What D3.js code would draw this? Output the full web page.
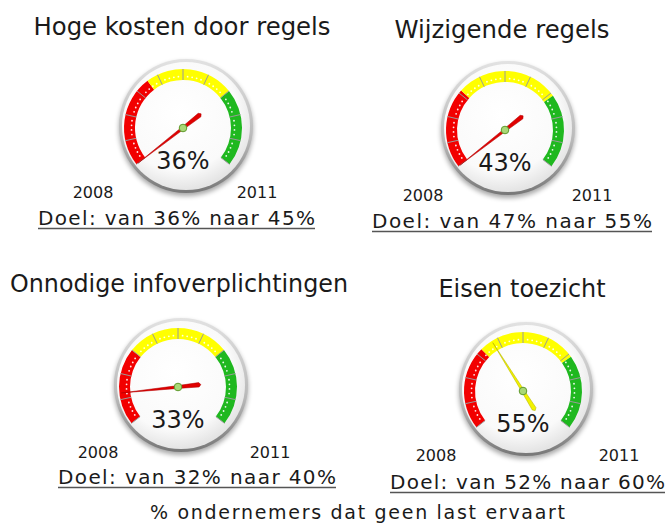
<!DOCTYPE html>
<html>
<head>
<meta charset="utf-8">
<script src="https://cdn.jsdelivr.net/npm/d3@7"></script>
<style>
  html, body { margin: 0; padding: 0; background: #fff; }
  svg { display: block; }
  text { font-family: 'DejaVu Sans', Verdana, sans-serif; fill: #1a1a1a; }
</style>
</head>
<body>
<div id="chart"></div>
<script>
// gauge data
const titles = ['Hoge kosten door regels', 'Wijzigende regels', 'Onnodige infoverplichtingen', 'Eisen toezicht'];
const values = [36, 43, 33, 55];
const startValues = [36, 47, 32, 52];
const targetValues = [45, 55, 40, 60];
const redEnds = [39.2, 49.5, 34.4, 54.6];
const yellowEnds = [42.3, 52.7, 37.6, 57.7];
const yearLabels = ['2008', '2011'];
const footer = '% ondernemers dat geen last ervaart';

const width = 668;
const height = 523;

// panel layout (pixel placement of each gauge block)
const layout = [
  { cx: 183, cy: 128, title: [182, 35, 297], y08: [93, 198], y11: [257, 198], doel: [38, 225, 277] },
  { cx: 505, cy: 130, title: [502, 38, 215], y08: [423, 201], y11: [592, 201], doel: [372, 228, 280] },
  { cx: 178, cy: 387, title: [179, 292, 338], y08: [98, 458], y11: [270, 458], doel: [58, 484, 278] },
  { cx: 523, cy: 391, title: [522, 297, 167], y08: [436, 461], y11: [619, 461], doel: [390, 489, 275] },
];

const colors = { red: '#f20000', yellow: '#ffff00', green: '#1fb81f' };
const needleColors = { red: '#e00000', yellow: '#f2f200', green: '#1fb81f' };

const svg = d3.select('#chart').append('svg')
  .attr('width', width)
  .attr('height', height);

const defs = svg.append('defs');

const face = defs.append('radialGradient').attr('id', 'face')
  .attr('cx', '45%').attr('cy', '40%').attr('r', '60%');
face.append('stop').attr('offset', '0%').attr('stop-color', '#ffffff');
face.append('stop').attr('offset', '75%').attr('stop-color', '#fafafa');
face.append('stop').attr('offset', '100%').attr('stop-color', '#e4e4e4');

const rim = defs.append('linearGradient').attr('id', 'rim')
  .attr('x1', 0).attr('y1', 0).attr('x2', 0).attr('y2', 1);
rim.append('stop').attr('offset', '0%').attr('stop-color', '#e2e2e2');
rim.append('stop').attr('offset', '60%').attr('stop-color', '#b8b8b8');
rim.append('stop').attr('offset', '100%').attr('stop-color', '#777');

const blur = defs.append('filter').attr('id', 'shadow')
  .attr('x', '-20%').attr('y', '-20%').attr('width', '140%').attr('height', '140%');
blur.append('feGaussianBlur').attr('stdDeviation', 2.5);

const rOuter = 59;
const rInner = 48;
const deg = Math.PI / 180;

titles.forEach((title, i) => {
  const L = layout[i];
  const scale = d3.scaleLinear()
    .domain([startValues[i], targetValues[i]])
    .range([-128, 128])
    .clamp(true);

  const g = svg.append('g');

  // title
  g.append('text')
    .attr('x', L.title[0])
    .attr('y', L.title[1])
    .attr('text-anchor', 'middle')
    .attr('font-size', 24)
    .attr('textLength', L.title[2])
    .attr('lengthAdjust', 'spacingAndGlyphs')
    .text(title);

  const gauge = g.append('g').attr('transform', `translate(${L.cx},${L.cy})`);

  // bezel
  gauge.append('circle')
    .attr('cx', 3).attr('cy', 1).attr('r', 67)
    .attr('fill', '#000').attr('opacity', 0.35)
    .attr('filter', 'url(#shadow)');
  gauge.append('circle')
    .attr('cx', 3).attr('cy', -2).attr('r', 67)
    .attr('fill', 'url(#rim)');
  gauge.append('circle')
    .attr('cx', 3).attr('cy', -2).attr('r', 64)
    .attr('fill', 'url(#face)');

  // colour band
  const arc = d3.arc().innerRadius(rInner).outerRadius(rOuter);
  const bands = [
    { from: startValues[i], to: redEnds[i], c: colors.red },
    { from: redEnds[i], to: yellowEnds[i], c: colors.yellow },
    { from: yellowEnds[i], to: targetValues[i], c: colors.green },
  ];
  gauge.selectAll('path.band')
    .data(bands)
    .join('path')
    .attr('class', 'band')
    .attr('d', (d) => arc({ startAngle: scale(d.from) * deg, endAngle: scale(d.to) * deg }))
    .attr('fill', (d) => d.c);

  // ticks
  const majors = d3.range(11).map((k) => -128 + (256 / 10) * k);
  gauge.selectAll('line.major')
    .data(majors)
    .join('line')
    .attr('class', 'major')
    .attr('x1', (a) => Math.sin(a * deg) * rInner)
    .attr('y1', (a) => -Math.cos(a * deg) * rInner)
    .attr('x2', (a) => Math.sin(a * deg) * rOuter)
    .attr('y2', (a) => -Math.cos(a * deg) * rOuter)
    .attr('stroke', '#9a9a9a')
    .attr('stroke-width', 1);

  const minors = [];
  majors.slice(0, -1).forEach((a) => {
    for (let m = 1; m < 5; m++) minors.push(a + (256 / 50) * m);
  });
  gauge.selectAll('circle.minor')
    .data(minors)
    .join('circle')
    .attr('class', 'minor')
    .attr('cx', (a) => Math.sin(a * deg) * 51.5)
    .attr('cy', (a) => -Math.cos(a * deg) * 51.5)
    .attr('r', 0.9)
    .attr('fill', '#fff')
    .attr('opacity', 0.9);

  // value text
  gauge.append('text')
    .attr('x', 0)
    .attr('y', 41)
    .attr('text-anchor', 'middle')
    .attr('font-size', 24)
    .text(values[i] + '%');

  // needle
  const v = Math.max(startValues[i], Math.min(targetValues[i], values[i]));
  const zone = v < redEnds[i] ? 'red' : v < yellowEnds[i] ? 'yellow' : 'green';
  const needle = d3.line()([[0, -57], [1.4, 0], [2.2, 21], [0, 23], [-2.2, 21], [-1.4, 0]]);
  gauge.append('path')
    .attr('d', needle + 'Z')
    .attr('transform', `rotate(${scale(values[i])})`)
    .attr('fill', needleColors[zone])
    .attr('stroke', zone === 'yellow' ? '#b5b500' : '#b00000')
    .attr('stroke-width', 0.5);

  gauge.append('circle')
    .attr('r', 3.8)
    .attr('fill', '#a9d877')
    .attr('stroke', '#5f9a2c')
    .attr('stroke-width', 1);

  // year labels
  g.append('text')
    .attr('x', L.y08[0]).attr('y', L.y08[1])
    .attr('text-anchor', 'middle')
    .attr('font-size', 16)
    .text(yearLabels[0]);
  g.append('text')
    .attr('x', L.y11[0]).attr('y', L.y11[1])
    .attr('text-anchor', 'middle')
    .attr('font-size', 16)
    .text(yearLabels[1]);

  // target line
  g.append('text')
    .attr('x', L.doel[0]).attr('y', L.doel[1])
    .attr('font-size', 20)
    .attr('textLength', L.doel[2])
    .attr('lengthAdjust', 'spacing')
    .text(`Doel: van ${startValues[i]}% naar ${targetValues[i]}%`);
  g.append('line')
    .attr('x1', L.doel[0]).attr('x2', L.doel[0] + L.doel[2])
    .attr('y1', L.doel[1] + 3.5).attr('y2', L.doel[1] + 3.5)
    .attr('stroke', '#555')
    .attr('stroke-width', 1.6);
});

svg.append('text')
  .attr('x', 150)
  .attr('y', 519)
  .attr('font-size', 19)
  .attr('textLength', 415)
  .attr('lengthAdjust', 'spacing')
  .text(footer);
</script>
</body>
</html>
